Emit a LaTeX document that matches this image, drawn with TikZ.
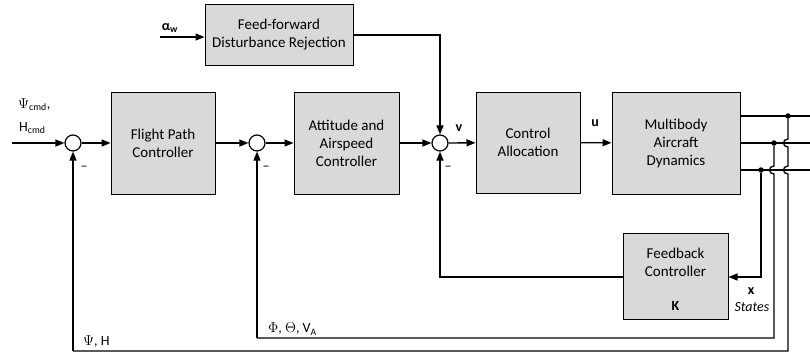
\documentclass[tikz,border=0pt]{standalone}
\usepackage{fontspec}
\setmainfont{Carlito}
\usetikzlibrary{arrows.meta}
\definecolor{blkfill}{HTML}{D9D9D9}
\begin{document}
\begin{tikzpicture}[x=1pt,y=-1pt,
  blk/.style={draw, fill=blkfill, line width=1pt, align=center,
    font=\fontsize{15}{18}\selectfont, inner sep=0pt},
  sumn/.style={circle, draw, line width=1.2pt, minimum size=16pt, inner sep=0pt, fill=white},
  wire/.style={line width=1.3pt},
  sig/.style={line width=1.3pt, -{Triangle[length=9pt,width=7pt]}},
  lbl/.style={font=\fontsize{14}{16}\selectfont, inner sep=0pt},
  jdot/.style={circle, fill=black, minimum size=5.5pt, inner sep=0pt}]
\useasboundingbox (0,0) rectangle (810,353);

% blocks
\node[blk, minimum width=148pt, minimum height=61pt] (ff) at (279,35) {Feed-forward\\Disturbance Rejection};
\node[blk, minimum width=104pt, minimum height=102pt] (fp) at (163,143) {Flight Path\\Controller};
\node[blk, minimum width=105pt, minimum height=102pt] (aa) at (346.5,143) {Attitude and\\Airspeed\\Controller};
\node[blk, minimum width=104pt, minimum height=101pt] (ca) at (528,142.5) {Control\\Allocation};
\node[blk, minimum width=128pt, minimum height=102pt] (mb) at (676,143) {Multibody\\Aircraft\\Dynamics};
\node[blk, minimum width=105pt, minimum height=86pt] (fb) at (675.5,276) {};
\node[align=center, font=\fontsize{15}{18}\selectfont, inner sep=0pt] (fbt) at (675.5,262) {Feedback\\Controller};
\node[font=\fontsize{14}{16}\selectfont\bfseries, inner sep=0pt] (fbk) at (675.5,306) {K};

% summing junctions
\node[sumn] (s1) at (73,143) {};
\node[sumn] (s2) at (257,143) {};
\node[sumn] (s3) at (440,143) {};

% coordinates
\coordinate (inL) at (12,143);
\coordinate (aw) at (160,37);
\coordinate (ffc) at (440,35);
\coordinate (o1) at (810,116);
\coordinate (o2) at (810,143);
\coordinate (o3) at (810,170);
\coordinate (m1) at (740,116);
\coordinate (m2) at (740,143);
\coordinate (m3) at (740,170);
\node[jdot] (d1) at (788,116) {};
\node[jdot] (d2) at (774,143) {};
\node[jdot] (d3) at (761,170) {};
\coordinate (fbr) at (761,277);
\coordinate (fbl) at (440,277);
\coordinate (b2r) at (774,338);
\coordinate (b2l) at (257,338);
\coordinate (b1r) at (788,351);
\coordinate (b1l) at (73,351);

% forward path
\draw[sig] (inL) -- (s1);
\draw[sig] (s1) -- (fp);
\draw[sig] (fp) -- (s2);
\draw[sig] (s2) -- (aa);
\draw[sig] (aa) -- (s3);
\draw[sig] (s3) -- (ca);
\draw[sig] (ca) -- (mb);
\draw[sig] (aw) -- (ff.west |- aw);
\draw[sig] (ff.east |- ffc) -- (ffc) -- (s3);

% outputs
\draw[wire] (m1) -- (o1);
\draw[wire] (m2) -- (o2);
\draw[wire] (m3) -- (o3);

% feedback to K
\draw[sig] (d3) -- (fbr) -- (fb.east |- fbr);
\draw[sig] (fb.west |- fbl) -- (fbl) -- (s3);

% attitude feedback with hop
\draw[wire] (d2) -- (774,166) .. controls (768,166) and (768,174) .. (774,174) -- (b2r) -- (b2l);
\draw[sig] (b2l) -- (s2);

% flight path feedback with hops
\draw[wire] (d1) -- (788,139) .. controls (782,139) and (782,147) .. (788,147) -- (788,166) .. controls (782,166) and (782,174) .. (788,174) -- (b1r) -- (b1l);
\draw[sig] (b1l) -- (s1);

% labels
\node[lbl, anchor=west] (l1) at (18,105) {$\Psi$\textsubscript{cmd},};
\node[lbl, anchor=west] (l2) at (19,128) {H\textsubscript{cmd}};
\node[lbl, font=\fontsize{14}{16}\selectfont\bfseries] (law) at (170,28) {α\textsubscript{w}};
\node[lbl, font=\fontsize{14}{16}\selectfont\bfseries] (lv) at (459,128) {v};
\node[lbl, font=\fontsize{14}{16}\selectfont\bfseries] (lu) at (595,123) {u};
\node[lbl, font=\fontsize{14}{16}\selectfont\bfseries] (lx) at (751,291) {x};
\node[lbl, font=\fontsize{14}{16}\selectfont\itshape] (ls) at (752,307) {States};
\node[lbl, anchor=west] (lphi) at (268,329) {$\Phi$, $\Theta$, V\textsubscript{A}};
\node[lbl, anchor=west] (lpsi) at (83,341) {$\Psi$, H};
\node[lbl] (mn1) at (84,168) {--};
\node[lbl] (mn2) at (266,168) {--};
\node[lbl] (mn3) at (448,168) {--};
\end{tikzpicture}
\end{document}
